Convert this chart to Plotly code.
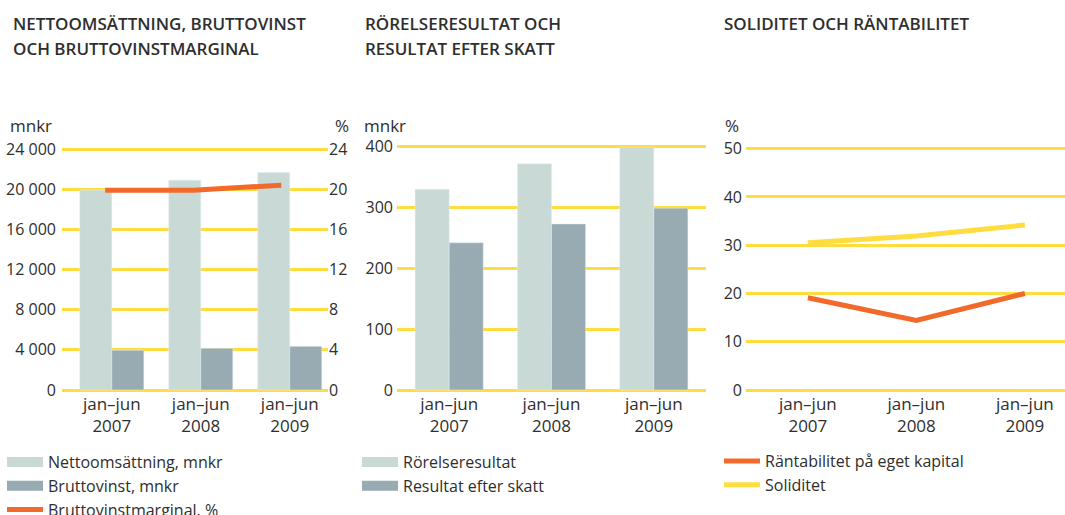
import plotly.graph_objects as go

W, H = 1065, 515

periods = ["jan–jun<br>2007", "jan–jun<br>2008", "jan–jun<br>2009"]

# Chart 1
netto = [19900, 20900, 21650]
brutto = [3950, 4150, 4350]
marginal = [19.9, 19.9, 20.4]
c1_ticks = [0, 4000, 8000, 12000, 16000, 20000, 24000]
c1_ticks_r = [0, 4, 8, 12, 16, 20, 24]

# Chart 2
rorelse = [330, 372, 399]
efter_skatt = [242, 273, 299]
c2_ticks = [0, 100, 200, 300, 400]

# Chart 3
rantabilitet = [19.1, 14.4, 20.0]
soliditet = [30.5, 31.9, 34.2]
c3_ticks = [0, 10, 20, 30, 40, 50]

LIGHT = "#C9D9D6"
DARK = "#98AAB2"
ORANGE = "#F26A2B"
YELLOW = "#FFDD40"
TXT = "#2E2E2E"
FONT = "Open Sans"


def px_x(p):
    return p / W


def px_y(p):
    return (H - p) / H


fig = go.Figure()

# ---- Chart 1 ----
w1 = 0.36
fig.add_trace(go.Bar(x=periods, y=netto, name="Nettoomsättning, mnkr", marker_color=LIGHT,
                     width=w1, offset=-w1, xaxis="x", yaxis="y", showlegend=False))
fig.add_trace(go.Bar(x=periods, y=brutto, name="Bruttovinst, mnkr", marker_color=DARK,
                     width=w1, offset=0, xaxis="x", yaxis="y", showlegend=False))
fig.add_trace(go.Scatter(x=periods, y=marginal, name="Bruttovinstmarginal, %", mode="lines",
                         line=dict(color=ORANGE, width=5), xaxis="x4", yaxis="y2",
                         showlegend=False))
for nm, col, lw in [("Nettoomsättning, mnkr", LIGHT, 13), ("Bruttovinst, mnkr", DARK, 13),
                    ("Bruttovinstmarginal, %", ORANGE, 5)]:
    fig.add_trace(go.Scatter(x=[None], y=[None], name=nm, mode="lines",
                             line=dict(color=col, width=lw), xaxis="x", yaxis="y",
                             legend="legend"))

# ---- Chart 2 ----
w2 = 0.333
fig.add_trace(go.Bar(x=periods, y=rorelse, name="Rörelseresultat", marker_color=LIGHT,
                     width=w2, offset=-w2, xaxis="x2", yaxis="y3", showlegend=False))
fig.add_trace(go.Bar(x=periods, y=efter_skatt, name="Resultat efter skatt", marker_color=DARK,
                     width=w2, offset=0, xaxis="x2", yaxis="y3", showlegend=False))
for nm, col in [("Rörelseresultat", LIGHT), ("Resultat efter skatt", DARK)]:
    fig.add_trace(go.Scatter(x=[None], y=[None], name=nm, mode="lines",
                             line=dict(color=col, width=13), xaxis="x2", yaxis="y3",
                             legend="legend2"))

# ---- Chart 3 ----
fig.add_trace(go.Scatter(x=periods, y=rantabilitet, name="Räntabilitet på eget kapital",
                         mode="lines", line=dict(color=ORANGE, width=5),
                         xaxis="x3", yaxis="y4", legend="legend3"))
fig.add_trace(go.Scatter(x=periods, y=soliditet, name="Soliditet",
                         mode="lines", line=dict(color=YELLOW, width=5),
                         xaxis="x3", yaxis="y4", legend="legend3"))

tickfont = dict(family=FONT, size=16, color=TXT)
xtickfont = dict(family=FONT, size=17, color=TXT)
grid = dict(showgrid=True, gridcolor=YELLOW, gridwidth=3, zeroline=False, showline=False,
            ticks="", tickfont=tickfont, fixedrange=True)
xcommon = dict(type="category", showgrid=False, zeroline=False, showline=False, ticks="",
               tickfont=xtickfont, fixedrange=True)

ydom1 = [px_y(392), px_y(147)]
ydom2 = [px_y(392), px_y(144.7)]
ydom3 = [px_y(392), px_y(146.7)]

legfont = dict(family=FONT, size=16, color=TXT)
leg_common = dict(font=legfont, bgcolor="rgba(0,0,0,0)", borderwidth=0,
                  orientation="v", xanchor="left", yanchor="top", tracegroupgap=0,
                  itemwidth=36)

fig.update_layout(
    width=W, height=H,
    margin=dict(l=0, r=0, t=0, b=0, autoexpand=False),
    paper_bgcolor="white", plot_bgcolor="white",
    separators=", ",
    barmode="overlay",
    font=dict(family=FONT, color=TXT),
    xaxis=dict(domain=[px_x(62), px_x(328)], range=[-0.56, 2.43], anchor="y", **xcommon),
    xaxis4=dict(domain=[px_x(62), px_x(328)], range=[-0.49, 2.53], anchor="y2",
                overlaying="x", type="category", visible=False, fixedrange=True),
    yaxis=dict(domain=ydom1, range=[-199, 24199], tickvals=c1_ticks, tickformat=",",
               anchor="x", ticklabelstandoff=5, **grid),
    yaxis2=dict(overlaying="y", side="right", range=[-0.199, 24.199], tickvals=c1_ticks_r,
                showgrid=False, zeroline=False, showline=False, ticks="", tickfont=tickfont,
                anchor="x", fixedrange=True),
    xaxis2=dict(domain=[px_x(397), px_x(706)], range=[-0.51, 2.51], anchor="y3", **xcommon),
    yaxis3=dict(domain=ydom2, range=[-3.29, 403.29], tickvals=c2_ticks, anchor="x2",
                ticklabelstandoff=3, **grid),
    xaxis3=dict(domain=[px_x(746), 1.0], range=[-0.57, 2.37], anchor="y4", **xcommon),
    yaxis4=dict(domain=ydom3, range=[-0.414, 50.414], tickvals=c3_ticks, anchor="x3",
                ticklabelstandoff=3, **grid),
    legend=dict(x=px_x(2), y=px_y(445), **leg_common),
    legend2=dict(x=px_x(357), y=px_y(445), **leg_common),
    legend3=dict(x=px_x(719), y=px_y(444), **leg_common),
    showlegend=True,
)

title_font = dict(family=FONT, size=17, color=TXT, weight=600)
unit_font = dict(family=FONT, size=17, color=TXT)
annots = [
    dict(text="NETTOOMSÄTTNING, BRUTTOVINST", x=px_x(11), y=px_y(23), font=title_font),
    dict(text="OCH BRUTTOVINSTMARGINAL", x=px_x(11), y=px_y(48), font=title_font),
    dict(text="RÖRELSERESULTAT OCH", x=px_x(363), y=px_y(23), font=title_font),
    dict(text="RESULTAT EFTER SKATT", x=px_x(363), y=px_y(48), font=title_font),
    dict(text="SOLIDITET OCH RÄNTABILITET", x=px_x(722), y=px_y(23), font=title_font),
    dict(text="mnkr", x=px_x(8), y=px_y(125), font=unit_font),
    dict(text="%", x=px_x(333), y=px_y(125), font=unit_font),
    dict(text="mnkr", x=px_x(362), y=px_y(125), font=unit_font),
    dict(text="%", x=px_x(723), y=px_y(125), font=unit_font),
]
for a in annots:
    fig.add_annotation(xref="paper", yref="paper", xanchor="left", yanchor="middle",
                       showarrow=False, align="left", **a)

fig.write_html("out.html")
